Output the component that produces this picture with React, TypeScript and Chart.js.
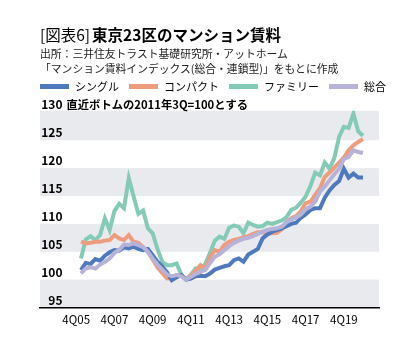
import React, { useEffect, useRef } from "react";
import { Chart, registerables } from "chart.js";

Chart.register(...registerables);

const FONT = "'Noto Sans CJK JP', 'Noto Sans', sans-serif";

const quarters = [
  "1Q06", "2Q06", "3Q06", "4Q06", "1Q07", "2Q07", "3Q07", "4Q07",
  "1Q08", "2Q08", "3Q08", "4Q08", "1Q09", "2Q09", "3Q09", "4Q09",
  "1Q10", "2Q10", "3Q10", "4Q10", "1Q11", "2Q11", "3Q11", "4Q11",
  "1Q12", "2Q12", "3Q12", "4Q12", "1Q13", "2Q13", "3Q13", "4Q13",
  "1Q14", "2Q14", "3Q14", "4Q14", "1Q15", "2Q15", "3Q15", "4Q15",
  "1Q16", "2Q16", "3Q16", "4Q16", "1Q17", "2Q17", "3Q17", "4Q17",
  "1Q18", "2Q18", "3Q18", "4Q18", "1Q19", "2Q19", "3Q19", "4Q19",
  "1Q20", "2Q20", "3Q20", "4Q20",
];

const tickLabels = ["4Q05", "4Q07", "4Q09", "4Q11", "4Q13", "4Q15", "4Q17", "4Q19"];
const yTicks = [95, 100, 105, 110, 115, 120, 125, 130];

const single = [
  101.7, 103.0, 102.8, 103.7, 103.4, 104.3, 104.9, 105.3, 105.2, 105.8,
  105.6, 105.9, 105.5, 105.3, 105.5, 104.4, 103.2, 102.4, 101.3, 99.9,
  100.4, 100.8, 100.0, 100.2, 100.6, 100.7, 100.6, 101.1, 101.8, 102.1,
  102.4, 102.6, 103.5, 103.8, 103.2, 104.5, 105.0, 105.5, 107.4, 108.1,
  108.6, 108.9, 109.2, 109.6, 110.0, 110.2, 111.1, 111.7, 112.5, 112.8,
  112.8, 114.7, 116.0, 117.0, 117.7, 119.9, 118.3, 119.0, 118.3, 118.3,
];

const compact = [
  106.8, 106.5, 106.6, 106.8, 106.8, 107.0, 107.1, 108.0, 107.4, 107.1,
  108.0, 106.8, 106.6, 105.8, 105.0, 103.6, 102.2, 101.2, 100.2, 100.3,
  100.8, 100.8, 100.0, 100.8, 101.6, 102.6, 102.0, 104.0, 105.3, 105.0,
  106.2, 106.8, 107.1, 107.3, 107.6, 107.8, 108.2, 108.5, 108.5, 108.3,
  108.3, 108.4, 109.0, 110.3, 111.0, 111.4, 112.3, 113.7, 114.0, 115.2,
  116.4, 118.4, 119.2, 120.1, 121.0, 121.9, 123.2, 124.1, 124.7, 125.2,
];

const family = [
  103.8, 107.2, 107.8, 107.1, 108.0, 111.0, 108.9, 112.3, 113.6, 112.8,
  118.2, 115.0, 111.8, 112.4, 109.2, 108.3, 105.5, 103.2, 102.6, 102.6,
  102.9, 100.9, 100.0, 100.9, 102.0, 101.9, 102.8, 104.8, 107.0, 107.7,
  107.3, 109.3, 109.7, 109.5, 108.3, 110.2, 109.8, 109.5, 109.6, 110.2,
  110.0, 110.3, 110.6, 111.2, 112.5, 112.9, 113.8, 114.9, 116.8, 119.2,
  118.7, 121.0, 119.9, 121.8, 125.6, 127.4, 127.2, 129.8, 126.6, 125.8,
];

const total = [
  101.1, 102.0, 102.2, 102.0, 102.7, 103.2, 103.8, 104.8, 105.3, 106.3,
  106.2, 106.5, 106.2, 105.8, 105.0, 103.8, 102.7, 101.8, 100.9, 100.6,
  100.8, 100.6, 100.0, 100.5, 101.0, 101.4, 101.7, 103.0, 104.1, 104.6,
  105.3, 106.0, 106.6, 107.0, 107.3, 107.5, 107.8, 108.2, 108.6, 108.9,
  109.1, 109.2, 109.5, 110.3, 110.8, 111.1, 111.7, 112.6, 113.1, 114.0,
  115.8, 116.7, 117.8, 118.9, 119.9, 121.6, 122.0, 123.2, 122.9, 122.7,
];

const seriesNames = ["シングル", "コンパクト", "ファミリー", "総合"];
const seriesColors = ["#4f79bd", "#ee9c7e", "#84cbb7", "#b6b2d8"];
const noteText = "直近ボトムの2011年3Q=100とする";

// quarter label "nQyy" -> quarters counted from 4Q05
function quarterIndex(label: string): number {
  const q = parseInt(label.charAt(0), 10);
  const y = 2000 + parseInt(label.slice(2), 10);
  return y * 4 + q - (2005 * 4 + 4);
}

function toPoints(values: number[]) {
  return values.map((v, i) => ({ x: quarterIndex(quarters[i]), y: v }));
}

const bandsPlugin = {
  id: "bands",
  beforeDraw(chart: any) {
    const { ctx, chartArea, scales } = chart;
    const y = scales.y;
    ctx.save();
    ctx.fillStyle = "#e9eaee";
    for (let i = 0; i < yTicks.length - 1; i += 2) {
      const bottom = y.getPixelForValue(yTicks[i]);
      const top = i + 1 >= yTicks.length - 1 ? chartArea.top : y.getPixelForValue(yTicks[i + 1]);
      ctx.fillRect(chartArea.left, top, chartArea.right - chartArea.left, bottom - top);
    }
    ctx.restore();
  },
  afterDraw(chart: any) {
    const { ctx, scales } = chart;
    const y = scales.y;
    ctx.save();
    ctx.fillStyle = "#000";
    ctx.font = `bold 12px ${FONT}`;
    ctx.textBaseline = "alphabetic";
    ctx.textAlign = "right";
    const labelRight = 62.5;
    for (const v of yTicks) {
      ctx.fillText(String(v), labelRight, y.getPixelForValue(v) - 3);
    }
    ctx.textAlign = "left";
    ctx.font = `bold 11.3px ${FONT}`;
    ctx.fillText(noteText, labelRight + 4, y.getPixelForValue(yTicks[yTicks.length - 1]) - 3);
    ctx.restore();
  },
};

export default function App() {
  const ref = useRef<HTMLCanvasElement>(null);

  useEffect(() => {
    const datasetsSrc = [single, compact, family, total];
    const drawOrder = [2, 3, 4, 1];
    const chart = new Chart(ref.current as HTMLCanvasElement, {
      type: "line",
      data: {
        datasets: datasetsSrc.map((vals, k) => ({
          label: seriesNames[k],
          data: toPoints(vals),
          borderColor: seriesColors[k],
          backgroundColor: seriesColors[k],
          borderWidth: 4,
          pointRadius: 0,
          tension: 0,
          fill: false,
          order: drawOrder[k],
        })),
      },
      options: {
        animation: false,
        responsive: false,
        maintainAspectRatio: false,
        layout: { padding: { left: 40, right: 40, top: 110.7, bottom: 20.5 } },
        plugins: {
          legend: { display: false },
          tooltip: { enabled: false },
        },
        scales: {
          x: {
            type: "linear",
            min: -7.57,
            max: 63.35,
            grid: { display: false, drawTicks: false },
            border: { display: true, color: "#000", width: 1.5 },
            afterBuildTicks: (scale: any) => {
              scale.ticks = tickLabels.map((l) => ({ value: quarterIndex(l) }));
            },
            afterFit: (scale: any) => {
              scale.height = 24;
            },
            ticks: {
              autoSkip: false,
              maxRotation: 0,
              padding: 5,
              color: "#000",
              font: { family: FONT, size: 11.5 },
              callback: (value: any) => {
                const found = tickLabels.find((l) => quarterIndex(l) === value);
                return found ?? "";
              },
            },
          },
          y: {
            display: false,
            min: 95,
            max: 130.3,
          },
        },
      },
      plugins: [bandsPlugin],
    } as any);
    return () => chart.destroy();
  }, []);

  return (
    <div
      style={{
        position: "absolute",
        left: 0,
        top: 0,
        width: 419,
        height: 352,
        background: "#fff",
        fontFamily: FONT,
        color: "#000",
        overflow: "hidden",
      }}
    >
      <canvas
        ref={ref}
        width={419}
        height={352}
        style={{ position: "absolute", left: 0, top: 0, width: 419, height: 352 }}
      />
      <div
        style={{
          position: "absolute",
          left: 40,
          top: 26,
          fontSize: 15.5,
          lineHeight: "16px",
          whiteSpace: "nowrap",
        }}
      >
        <span style={{ fontWeight: 400 }}>[図表6]</span>
        <span style={{ fontWeight: 700, marginLeft: 2 }}>東京23区のマンション賃料</span>
      </div>
      <div
        style={{
          position: "absolute",
          left: 40,
          top: 47,
          fontSize: 10.8,
          lineHeight: "12px",
          whiteSpace: "nowrap",
          color: "#222",
        }}
      >
        出所：三井住友トラスト基礎研究所・アットホーム
      </div>
      <div
        style={{
          position: "absolute",
          left: 40,
          top: 61.5,
          fontSize: 10.8,
          lineHeight: "12px",
          whiteSpace: "nowrap",
          color: "#222",
        }}
      >
        「マンション賃料インデックス(総合・連鎖型)」をもとに作成
      </div>
      <div
        style={{
          position: "absolute",
          left: 40,
          top: 80,
          height: 12,
          display: "flex",
          alignItems: "center",
          fontSize: 11,
          lineHeight: "12px",
          whiteSpace: "nowrap",
        }}
      >
        {seriesNames.map((name, k) => (
          <div key={name} style={{ display: "flex", alignItems: "center", marginRight: 10 }}>
            <div style={{ width: 29, height: 5, background: seriesColors[k], marginRight: 6 }} />
            <span>{name}</span>
          </div>
        ))}
      </div>
    </div>
  );
}
